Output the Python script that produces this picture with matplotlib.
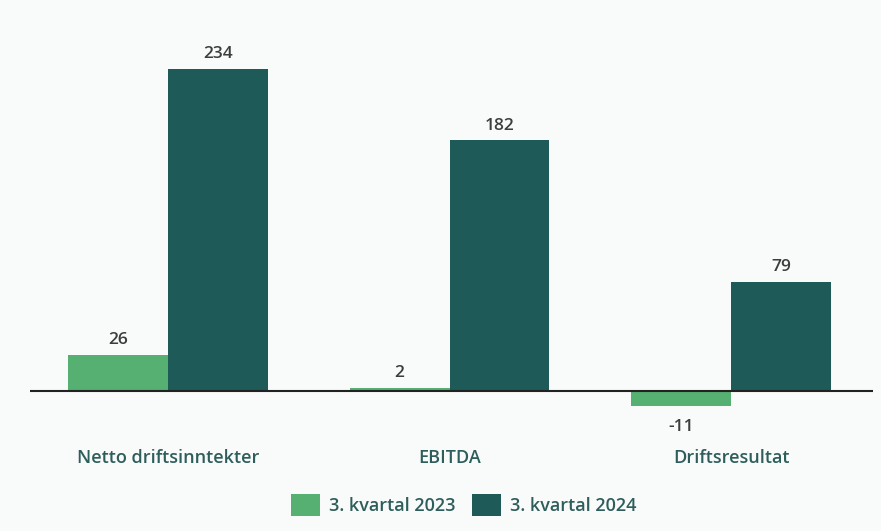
import matplotlib
matplotlib.use("Agg")
import matplotlib.pyplot as plt
import matplotlib.transforms as mtransforms
import numpy as np

# data
categories = ["Netto driftsinntekter", "EBITDA", "Driftsresultat"]
series_names = ["3. kvartal 2023", "3. kvartal 2024"]
q3_2023 = [26, 2, -11]
q3_2024 = [234, 182, 79]

light_green = "#55b072"
dark_teal = "#1d5a58"
text_col = "#2e5e5b"
bg = "#f9fbfa"

plt.rcParams["font.family"] = ["Open Sans", "DejaVu Sans"]

fig = plt.figure(figsize=(8.81, 5.31), dpi=100, facecolor=bg)
ax = fig.add_axes([30 / 881, 111 / 531, 843 / 881, 380 / 531])
ax.set_facecolor(bg)

x = np.arange(len(categories))
w = 0.355
b1 = ax.bar(x - w / 2, q3_2023, w, color=light_green, label=series_names[0])
b2 = ax.bar(x + w / 2, q3_2024, w, color=dark_teal, label=series_names[1])

for bars, vals in [(b1, q3_2023), (b2, q3_2024)]:
    for bar, v in zip(bars, vals):
        cx = bar.get_x() + bar.get_width() / 2
        if v >= 0:
            ax.annotate(str(v), (cx, v), xytext=(0, 5), textcoords="offset points",
                        ha="center", va="bottom", fontsize=12.5, fontweight="semibold", color="#3a3f3e")
        else:
            ax.annotate(str(v), (cx, v), xytext=(0, -9), textcoords="offset points",
                        ha="center", va="top", fontsize=12.5, fontweight="semibold", color="#3a3f3e")

ax.axhline(0, xmin=0, xmax=1, color="#222222", lw=1.5)
ax.set_xlim(-0.49, 2.504)
ax.set_ylim(-21.1, 255)
for s in ax.spines.values():
    s.set_visible(False)
ax.set_xticks([])
ax.set_yticks([])

# category labels under the axis
trans = mtransforms.blended_transform_factory(ax.transData, fig.transFigure)
for xi, c in zip(x, categories):
    ax.text(xi, 1 - 458 / 531, c, transform=trans, ha="center", va="center",
            fontsize=13, fontweight="semibold", color=text_col)

fig.legend(handles=[b1, b2], labels=series_names, loc="center",
           bbox_to_anchor=(464 / 881, 1 - 505 / 531), ncol=2, frameon=False,
           handlelength=1.6, handleheight=1.5, columnspacing=0.9, handletextpad=0.5,
           labelcolor=text_col, prop={"weight": "semibold", "size": 13})

fig.savefig("out.png", dpi=100, facecolor=bg)
